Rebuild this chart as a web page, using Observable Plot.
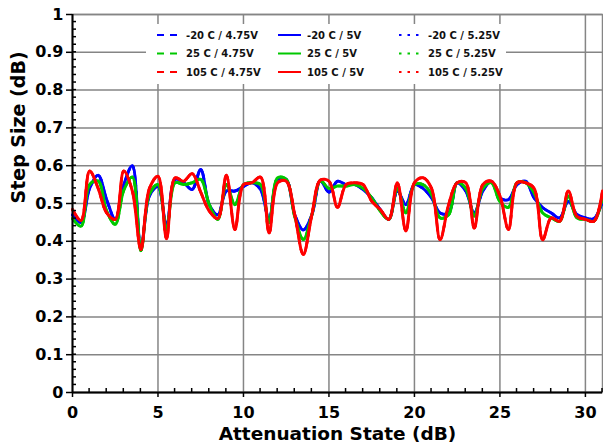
<!DOCTYPE html>
<html><head><meta charset="utf-8">
<script src="https://cdn.jsdelivr.net/npm/d3@7"></script>
<script src="https://cdn.jsdelivr.net/npm/@observablehq/plot@0.6"></script>
<style>
html,body{margin:0;padding:0;background:#fff;}
#chart{position:relative;width:603px;height:443px;}
</style></head><body><div id="chart"></div>
<script>
// Attenuation states (dB)
const states = [0,0.5,1,1.5,2,2.5,3,3.5,4,4.5,5,5.5,6,6.5,7,7.5,8,8.5,9,9.5,10,10.5,11,11.5,12,12.5,13,13.5,14,14.5,15,15.5,16,16.5,17,17.5,18,18.5,19,19.5,20,20.5,21,21.5,22,22.5,23,23.5,24,24.5,25,25.5,26,26.5,27,27.5,28,28.5,29,29.5,30,30.5,31];

// Step size (dB) per temperature (voltage variants overlap almost exactly)
const stepM20 = [0.47,0.45,0.54,0.575,0.51,0.458,0.55,0.6,0.38,0.52,0.545,0.44,0.564,0.555,0.537,0.59,0.497,0.47,0.533,0.533,0.545,0.555,0.537,0.458,0.564,0.564,0.47,0.43,0.47,0.56,0.53,0.559,0.55,0.55,0.537,0.515,0.484,0.458,0.533,0.497,0.55,0.54,0.515,0.475,0.475,0.555,0.533,0.475,0.533,0.559,0.515,0.51,0.55,0.559,0.515,0.489,0.475,0.462,0.506,0.471,0.462,0.46,0.506];
const step25 = [0.46,0.44,0.55,0.56,0.48,0.445,0.535,0.57,0.375,0.525,0.55,0.43,0.555,0.55,0.555,0.564,0.497,0.458,0.55,0.497,0.55,0.555,0.55,0.449,0.568,0.564,0.465,0.405,0.47,0.56,0.54,0.546,0.546,0.55,0.54,0.515,0.48,0.458,0.54,0.475,0.55,0.55,0.524,0.462,0.47,0.555,0.54,0.466,0.54,0.555,0.505,0.49,0.555,0.555,0.528,0.475,0.462,0.453,0.52,0.462,0.458,0.453,0.52];
const step105 = [0.484,0.455,0.586,0.54,0.475,0.458,0.586,0.533,0.378,0.54,0.572,0.407,0.568,0.559,0.579,0.53,0.48,0.46,0.575,0.431,0.55,0.555,0.57,0.422,0.555,0.559,0.47,0.365,0.47,0.562,0.559,0.49,0.55,0.555,0.55,0.506,0.484,0.458,0.555,0.427,0.555,0.568,0.54,0.404,0.497,0.555,0.555,0.435,0.55,0.559,0.52,0.431,0.555,0.555,0.54,0.404,0.462,0.453,0.533,0.466,0.458,0.453,0.533];

const temps = ["-20 C", "25 C", "105 C"];
const volts = ["4.75V", "5V", "5.25V"];
const tempColors = ["#0000ff", "#00c800", "#ff0000"];
const voltDash = ["7,6", null, "2.5,6"];
const tempValues = [stepM20, step25, step105];

const xTicks = [0, 5, 10, 15, 20, 25, 30];
const yTicks = [0, 0.1, 0.2, 0.3, 0.4, 0.5, 0.6, 0.7, 0.8, 0.9, 1];

const series = [];
temps.forEach((t, ti) => volts.forEach((v, vi) => series.push({
  name: `${t} / ${v}`, color: tempColors[ti], dash: voltDash[vi], solid: vi === 1, values: tempValues[ti]
})));

const lineMarks = [];
[0, 1, 2].forEach(ti => {
  [0, 2, 1].forEach(vi => {
    const s = series[ti * 3 + vi];
    const rows = states.map((x, i) => ({x, y: s.values[i]}));
    lineMarks.push(Plot.line(rows, {
      x: "x", y: "y", stroke: s.color, strokeWidth: s.solid ? 3 : 2.6,
      strokeDasharray: s.dash, curve: "catmull-rom"
    }));
  });
});

const gridColor = "#858585";
const plot = Plot.plot({
  width: 603, height: 443,
  marginLeft: 72, marginRight: 1, marginTop: 14, marginBottom: 51,
  x: {domain: [0, 31]},
  y: {domain: [0, 1]},
  style: {fontFamily: "DejaVu Sans, Verdana, sans-serif", fontWeight: "bold", fontSize: "16px", color: "#000", background: "#fff", overflow: "visible"},
  marks: [
    Plot.gridY(yTicks, {stroke: gridColor, strokeOpacity: 1, strokeWidth: 1.5}),
    Plot.gridX(xTicks.filter(d => d > 0), {stroke: gridColor, strokeOpacity: 1, strokeWidth: 1.5}),
    Plot.frame({stroke: gridColor, strokeWidth: 1.5}),
    ...lineMarks,
    Plot.axisY(yTicks, {tickSize: 6, tickPadding: 3, tickFormat: d => String(d), label: null, fontSize: 16, fontWeight: "bold", strokeWidth: 1.5}),
    Plot.axisX(xTicks, {tickSize: 5, tickPadding: 9, tickFormat: d => String(d), label: null, fontSize: 16, fontWeight: "bold", strokeWidth: 1.5}),
    Plot.ruleX([0], {stroke: "#000", strokeWidth: 2}),
    Plot.ruleY([0], {stroke: "#000", strokeWidth: 2}),
    Plot.text(["Attenuation State (dB)"], {text: d => d, frameAnchor: "bottom", dy: 42, fontSize: 18.5, fontWeight: "bold", lineAnchor: "middle"}),
    Plot.text(["Step Size (dB)"], {text: d => d, frameAnchor: "left", rotate: -90, dx: -54, fontSize: 19, fontWeight: "bold"})
  ]
});

document.getElementById("chart").appendChild(plot);

// minor ticks (inward) and legend
const sx = plot.scale("x"), sy = plot.scale("y");
const svg = d3.select(plot);
const minor = svg.append("g").attr("stroke", "#000").attr("stroke-width", 1.5);
for (let k = 1; k < 50; k++) {
  const y = sy.apply(k * 0.02);
  minor.append("line").attr("x1", sx.apply(0)).attr("x2", sx.apply(0) + 4).attr("y1", y).attr("y2", y);
}
for (let v = 1; v <= 31; v += 1) {
  if (v % 5 === 0) continue;
  const x = sx.apply(v);
  minor.append("line").attr("x1", x).attr("x2", x).attr("y1", sy.apply(0)).attr("y2", sy.apply(0) - 4);
}

const lg = svg.append("g").attr("font-family", "DejaVu Sans, Verdana, sans-serif").attr("font-weight", "bold").attr("font-size", 10).attr("text-anchor", "start");
lg.append("rect").attr("x", 146).attr("y", 24).attr("width", 360).attr("height", 60).attr("fill", "#fff");
const colX = [157, 278, 399];
const rowY = [35, 53.5, 72];
series.forEach((s, i) => {
  const ti = Math.floor(i / 3), vi = i % 3;
  const x0 = colX[vi], y0 = rowY[ti];
  lg.append("line").attr("x1", x0).attr("x2", x0 + 23).attr("y1", y0).attr("y2", y0)
    .attr("stroke", s.color).attr("stroke-width", 2)
    .attr("stroke-dasharray", s.dash || null);
  lg.append("text").attr("x", x0 + 29).attr("y", y0).attr("dy", "0.35em").attr("text-anchor", "start").attr("fill", "#111").text(s.name);
});
</script>
</body></html>
